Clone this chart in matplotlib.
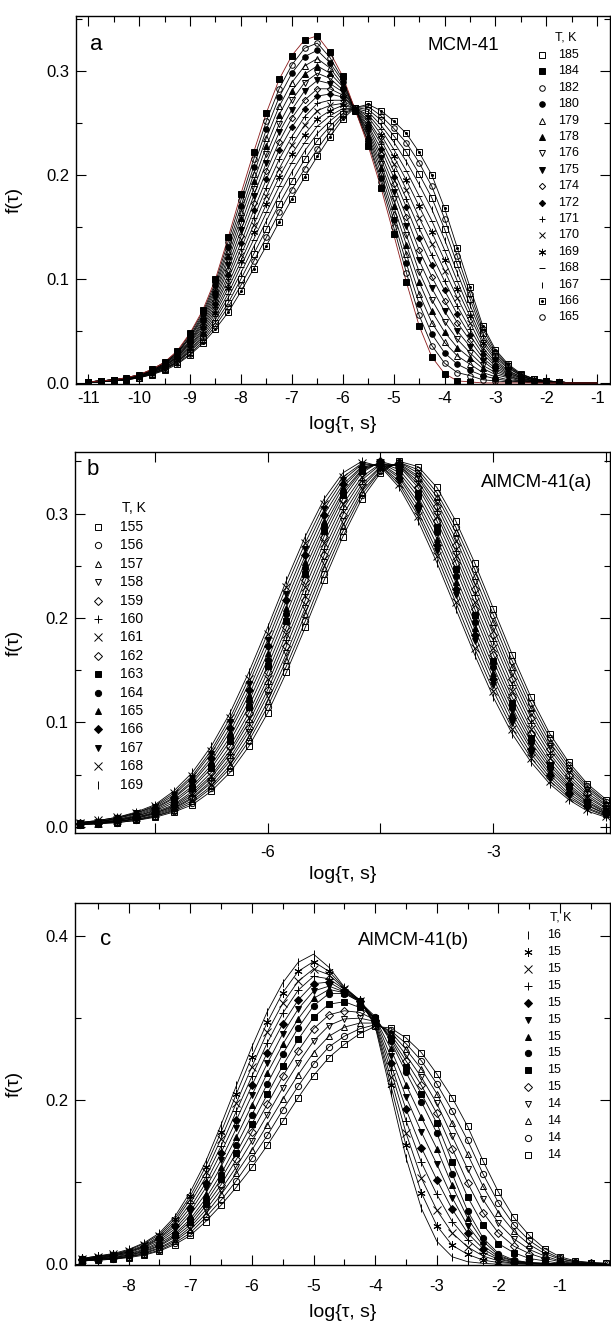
import numpy as np
import matplotlib
matplotlib.use("Agg")
import matplotlib.pyplot as plt
from matplotlib.ticker import MultipleLocator, FixedLocator, FixedFormatter, FormatStrFormatter

plt.rcParams['font.family'] = ['Liberation Sans', 'DejaVu Sans']
plt.rcParams['axes.unicode_minus'] = False

# ---------------- data (f(tau) values given in units of 1e-3) ----------------
# panel a: MCM-41, log(tau) from -11 to -1 in steps of 0.25
logtau_a = np.linspace(-11.0, -1.0, 41)
temps_a = ['185', '184', '182', '180', '179', '178', '176', '175', '174',
           '172', '171', '170', '169', '168', '167', '166', '165']
marks_a = ['s0', 's1', 'o0', 'o1', '^0', '^1', 'v0', 'v1', 'D0', 'D1',
           '+', 'x', '*', '_', '|', 'sd', 'o0']
f_a = [
    [1,1,2,3,5,9,13,20,30,42,58,77,100,124,148,172,194,215,233,247,259,265,263,253,238,222,201,178,148,114,81,48,28,16,8,4,2,1,0,0,0],
    [1,2,3,5,8,13,20,31,48,70,100,140,182,222,260,292,315,330,334,318,295,262,228,188,143,97,55,25,9,2,1,0,0,0,0,0,0,0,0,0,0],
    [1,2,3,5,8,13,20,30,47,68,97,136,176,215,252,283,306,322,327,313,292,262,231,193,150,106,65,36,19,10,7,3,2,1,1,0,0,0,0,0,0],
    [1,2,3,5,8,12,19,29,45,66,94,131,170,208,244,275,298,314,320,308,290,262,233,197,157,115,76,47,29,18,12,7,4,2,1,1,0,0,0,0,0],
    [1,2,3,5,7,12,19,29,44,64,91,127,164,201,236,266,289,305,312,303,287,263,236,202,163,124,86,58,39,26,18,10,6,3,2,1,0,0,0,0,0],
    [1,2,3,4,7,12,18,28,43,62,88,122,159,194,228,258,281,297,305,298,285,263,238,207,170,133,97,69,49,34,24,14,8,5,2,1,1,0,0,0,0],
    [1,2,3,4,7,11,18,27,41,60,85,118,153,187,220,249,272,289,298,293,282,263,241,211,177,142,107,80,59,42,29,17,10,6,3,1,1,0,0,0,0],
    [1,2,3,4,7,11,17,26,40,58,82,113,147,180,212,241,263,281,291,288,280,263,243,216,184,151,118,91,69,50,35,21,12,7,3,2,1,0,0,0,0],
    [1,2,3,4,7,11,17,25,39,56,79,109,141,173,204,232,255,272,283,283,277,263,246,220,191,160,128,102,79,58,41,24,14,8,4,2,1,0,0,0,0],
    [1,2,3,4,7,11,16,25,38,54,76,104,135,166,196,224,246,264,276,278,275,264,248,225,198,169,139,113,89,66,46,28,16,9,5,2,1,1,0,0,0],
    [1,1,2,4,6,10,16,24,36,52,73,100,129,159,188,215,237,256,269,272,272,264,251,230,204,177,149,123,98,74,52,31,18,10,5,2,1,1,0,0,0],
    [1,1,2,4,6,10,15,23,35,50,70,95,123,152,180,206,229,248,262,267,269,264,253,234,211,186,159,134,108,82,58,34,20,11,6,3,1,1,0,0,0],
    [1,1,2,4,6,10,15,22,34,48,67,91,117,145,172,198,220,239,254,262,267,264,256,239,218,195,170,145,118,90,64,38,22,12,6,3,1,1,0,0,0],
    [1,1,2,3,6,9,14,21,32,46,64,86,112,138,164,189,212,231,247,257,264,264,258,244,225,204,180,156,128,98,69,41,24,14,7,3,2,1,0,0,0],
    [1,1,2,3,6,9,14,20,31,44,61,82,106,131,156,181,203,223,240,252,262,264,261,248,232,213,191,167,138,106,75,45,26,15,7,3,2,1,0,0,0],
    [1,1,2,3,5,8,12,18,27,38,52,68,88,110,132,155,177,198,218,237,254,265,268,262,252,240,222,200,168,130,92,55,32,18,9,4,2,1,0,0,0],
    [1,1,2,3,5,8,13,19,28,40,55,73,94,117,140,164,186,206,225,242,257,265,266,257,245,231,212,189,158,122,86,52,30,17,8,4,2,1,0,0,0],
]

# panel b: AlMCM-41(a), log(tau) from -8.5 to -1.5 in steps of 0.25
logtau_b = np.linspace(-8.5, -1.5, 29)
temps_b = ['155', '156', '157', '158', '159', '160', '161', '162',
           '163', '164', '165', '166', '167', '168', '169']
marks_b = ['s0', 'o0', '^0', 'v0', 'D0', '+', 'x', 'D0', 's1', 'o1',
           '^1', 'D1', 'v1', 'x', '|']
f_b = [
    [2,3,4,6,9,14,21,34,52,77,109,148,191,236,278,314,339,350,345,325,293,253,209,165,124,89,62,41,26],
    [2,3,4,6,10,15,23,37,56,82,115,154,197,242,283,318,341,349,342,320,287,247,203,159,119,85,59,39,24],
    [2,3,5,7,10,16,25,39,59,86,120,160,204,248,288,321,342,349,339,316,282,240,196,153,114,81,56,37,23],
    [2,3,5,7,11,17,27,42,63,91,126,166,210,254,293,325,344,348,336,311,276,234,190,147,109,77,53,35,21],
    [3,4,5,8,12,18,28,44,66,95,131,173,217,260,299,328,345,347,334,307,270,228,184,142,104,74,50,32,20],
    [3,4,5,8,13,19,30,47,70,100,137,179,223,266,304,332,347,346,331,302,264,222,178,136,99,70,47,30,18],
    [3,4,6,9,13,20,32,49,73,104,142,185,230,272,309,335,348,346,328,298,259,215,171,130,94,66,44,28,17],
    [3,4,6,9,14,21,34,52,77,109,148,191,236,278,314,339,350,345,325,293,253,209,165,124,89,62,41,26,15],
    [3,4,6,10,15,23,37,56,82,115,154,197,242,283,318,341,349,342,320,287,247,203,159,119,85,59,39,24,14],
    [3,5,7,10,16,25,39,59,86,120,160,204,248,288,321,342,349,339,316,282,240,196,153,114,81,56,37,23,13],
    [3,5,7,11,17,27,42,63,91,126,166,210,254,293,325,344,348,336,311,276,234,190,147,109,77,53,35,21,12],
    [4,5,8,12,18,28,44,66,95,131,173,217,260,299,328,345,347,334,307,270,228,184,142,104,74,50,32,20,12],
    [4,5,8,13,19,30,47,70,100,137,179,223,266,304,332,347,346,331,302,264,222,178,136,99,70,47,30,18,11],
    [4,6,9,13,20,32,49,73,104,142,185,230,272,309,335,348,346,328,298,259,215,171,130,94,66,44,28,17,10],
    [4,6,9,14,21,34,52,77,109,148,191,236,278,314,339,350,345,325,293,253,209,165,124,89,62,41,26,15,9],
]

# panel c: AlMCM-41(b), log(tau) from -8.75 to -0.25 in steps of 0.25
logtau_c = np.linspace(-8.75, -0.25, 35)
temps_c = ['16', '15', '15', '15', '15', '15', '15', '15', '15', '15',
           '14', '14', '14', '14']
marks_c = ['|', '*', 'x', '+', 'D1', 'v1', '^1', 'o1', 's1', 'D0',
           'v0', '^0', 'o0', 's0']
f_c = [
    [7,10,13,18,26,38,58,88,125,170,218,265,308,343,368,378,362,338,322,290,210,130,68,28,9,3,1,0,0,0,0,0,0,0,0],
    [7,10,12,17,25,36,55,83,119,161,208,253,295,331,357,369,357,337,322,292,219,145,87,47,23,12,5,2,1,0,0,0,0,0,0],
    [6,9,12,16,23,34,52,79,112,153,197,241,283,318,345,360,353,336,321,293,228,160,105,66,38,21,10,4,1,1,0,0,0,0,0],
    [6,9,11,15,22,32,49,74,106,144,187,229,270,306,334,351,348,335,321,295,237,175,124,85,52,30,14,6,2,1,0,0,0,0,0],
    [6,8,11,15,21,31,46,69,99,136,176,218,258,293,322,342,344,333,321,297,245,189,142,103,67,38,19,7,3,1,1,0,0,0,0],
    [6,8,10,14,20,29,43,64,93,127,166,206,245,281,311,333,339,332,321,299,254,204,161,122,81,47,23,9,4,1,1,0,0,0,0],
    [5,7,10,13,18,27,40,60,86,119,155,194,233,268,299,324,335,331,320,300,263,219,179,141,96,56,28,11,4,2,1,0,0,0,0],
    [5,7,9,12,17,25,37,55,80,110,145,182,220,256,288,315,330,330,320,302,272,234,198,160,110,65,32,13,5,2,1,0,0,0,0],
    [5,7,8,11,16,23,35,52,75,104,136,171,207,242,274,301,317,320,313,300,275,241,208,172,125,82,48,25,14,7,4,1,1,0,0],
    [5,6,8,11,15,22,33,48,71,97,128,161,195,229,260,287,304,309,307,298,277,248,218,184,141,99,63,38,22,13,7,3,1,1,0],
    [4,6,7,10,14,20,30,45,66,91,119,150,182,215,245,272,291,299,300,296,280,255,228,196,156,116,79,50,31,18,10,4,2,1,0],
    [4,6,7,9,13,19,28,42,61,85,111,139,170,201,231,258,278,289,294,294,283,262,238,208,172,134,95,63,40,24,13,6,3,1,1],
    [4,5,6,9,12,17,26,38,57,78,102,129,157,188,217,244,265,278,287,292,285,269,248,220,187,151,110,75,48,29,16,7,3,2,1],
    [4,5,6,8,11,16,24,35,52,72,94,118,145,174,203,230,252,268,281,290,288,276,258,232,203,168,126,88,57,35,19,9,4,2,1],
]


def mstyle(code, ms):
    kw = dict(ls='none', mec='black', mew=0.7, ms=ms, color='black')
    if code in ('+', 'x', '_', '|'):
        kw.update(marker=code, ms=ms * 1.15)
    elif code == '*':
        kw.update(marker=(6, 2, 0), ms=ms * 1.3)
    elif code == 'sd':
        kw.update(marker='s', mfc='none')
    else:
        kw.update(marker=code[0], mfc='black' if code[1] == '1' else 'none')
        if code[0] == 'D':
            kw['ms'] = ms * 0.8
    return kw


def draw_marks(ax, x, y, code, ms, **extra):
    ax.plot(x, y, **mstyle(code, ms), **extra)
    if code == 'sd':
        ax.plot(x, y, ls='none', marker='o', ms=1.2, mfc='black', mec='black', **extra)


def draw_panel(ax, x, rows, marks, ms, red_row=None):
    for j, (row, code) in enumerate(zip(rows, marks)):
        y = np.array(row) / 1000.0
        xx = x[:len(y)]
        col = '#8b1a1a' if j == red_row else 'black'
        ax.plot(xx, y, color=col, lw=0.6, zorder=3 if j == red_row else 2)
        keep = y > 0
        draw_marks(ax, xx[keep], y[keep], code, ms, zorder=4)


def draw_key(ax, temps, marks, xm, xt, y0, dy, xtit, ytit, fs, ms):
    ax.text(xtit, ytit, 'T, K', transform=ax.transAxes, fontsize=fs,
            ha='left', va='center')
    for j, (t, code) in enumerate(zip(temps, marks)):
        yy = y0 - j * dy
        draw_marks(ax, [xm], [yy], code, ms, transform=ax.transAxes, clip_on=False)
        ax.text(xt, yy, t, transform=ax.transAxes, fontsize=fs, ha='left', va='center')


def style_axes(ax, pad_x):
    for s in ax.spines.values():
        s.set_linewidth(1.0)
    ax.tick_params(which='both', direction='in', top=True, right=True,
                   labelsize=12, width=0.8)
    ax.tick_params(axis='x', which='both', pad=pad_x)
    ax.tick_params(axis='y', which='both', pad=5)
    ax.tick_params(which='major', length=7)
    ax.tick_params(which='minor', length=4)
    ax.yaxis.set_major_formatter(FormatStrFormatter('%.1f'))


fig = plt.figure(figsize=(6.11, 13.25), dpi=100)

# ---------------- panel a ----------------
ax = fig.add_axes([0.1244, 0.7102, 0.874, 0.2777])
draw_panel(ax, logtau_a, f_a, marks_a, 4, red_row=1)
ax.set_xlim(-11.24, -0.75)
ax.set_ylim(-0.001, 0.353)
ax.xaxis.set_major_locator(MultipleLocator(1))
ax.xaxis.set_minor_locator(MultipleLocator(0.5))
ax.xaxis.set_major_formatter(FormatStrFormatter('%d'))
ax.yaxis.set_major_locator(MultipleLocator(0.1))
ax.yaxis.set_minor_locator(MultipleLocator(0.05))
style_axes(ax, 5)
ax.text(0.026, 0.9076, 'a', transform=ax.transAxes, fontsize=16, va='baseline')
ax.text(0.7247, 0.9076, 'MCM-41', transform=ax.transAxes, fontsize=13.5,
        ha='center', va='baseline')
draw_key(ax, temps_a, marks_a, 0.8727, 0.9026, 0.894, 0.04457, 0.897, 0.943, 9, 4)
ax.set_xlabel('log{τ, s}', fontsize=14)
ax.set_ylabel('f(τ)', fontsize=14)
ax.xaxis.set_label_coords(0.5, -0.111)
ax.xaxis.label.set_verticalalignment('center')
ax.yaxis.set_label_coords(-0.0993, 0.5)

# ---------------- panel b ----------------
ax = fig.add_axes([0.12275, 0.37132, 0.8756, 0.28755])
draw_panel(ax, logtau_b, f_b, marks_b, 4.5)
ax.set_xlim(-8.56, -1.45)
ax.set_ylim(-0.006, 0.359)
ax.xaxis.set_major_locator(FixedLocator([-7.5, -6, -4.5, -3, -1.5]))
ax.xaxis.set_major_formatter(FixedFormatter(['', '-6', '', '-3', '']))
ax.yaxis.set_major_locator(MultipleLocator(0.1))
ax.yaxis.set_minor_locator(MultipleLocator(0.05))
style_axes(ax, 8.5)
ax.text(0.0224, 0.9396, 'b', transform=ax.transAxes, fontsize=16, va='baseline')
ax.text(0.8626, 0.909, 'AlMCM-41(a)', transform=ax.transAxes, fontsize=13.5,
        ha='center', va='baseline')
draw_key(ax, temps_b, marks_b, 0.043, 0.084, 0.803, 0.0483, 0.0879, 0.853, 10, 4.5)
ax.set_xlabel('log{τ, s}', fontsize=14)
ax.set_ylabel('f(τ)', fontsize=14)
ax.xaxis.set_label_coords(0.5, -0.110)
ax.xaxis.label.set_verticalalignment('center')
ax.yaxis.set_label_coords(-0.0972, 0.5)

# ---------------- panel c ----------------
ax = fig.add_axes([0.12275, 0.04528, 0.8756, 0.27321])
draw_panel(ax, logtau_c, f_c, marks_c, 4.5)
ax.set_xlim(-8.87, -0.19)
ax.set_ylim(-0.001, 0.4404)
ax.xaxis.set_major_locator(MultipleLocator(1))
ax.xaxis.set_minor_locator(MultipleLocator(0.5))
ax.xaxis.set_major_formatter(FormatStrFormatter('%d'))
ax.yaxis.set_major_locator(MultipleLocator(0.2))
ax.yaxis.set_minor_locator(MultipleLocator(0.1))
style_axes(ax, 10)
ax.text(0.047, 0.884, 'c', transform=ax.transAxes, fontsize=16, va='baseline')
ax.text(0.632, 0.884, 'AlMCM-41(b)', transform=ax.transAxes, fontsize=13.5,
        ha='center', va='baseline')
draw_key(ax, temps_c, marks_c, 0.846, 0.8817, 0.9116, 0.04674, 0.888, 0.9594, 9, 4.5)
ax.set_xlabel('log{τ, s}', fontsize=14)
ax.set_ylabel('f(τ)', fontsize=14)
ax.xaxis.set_label_coords(0.5, -0.130)
ax.xaxis.label.set_verticalalignment('center')
ax.yaxis.set_label_coords(-0.0972, 0.5)

fig.savefig('out.png', dpi=100)
